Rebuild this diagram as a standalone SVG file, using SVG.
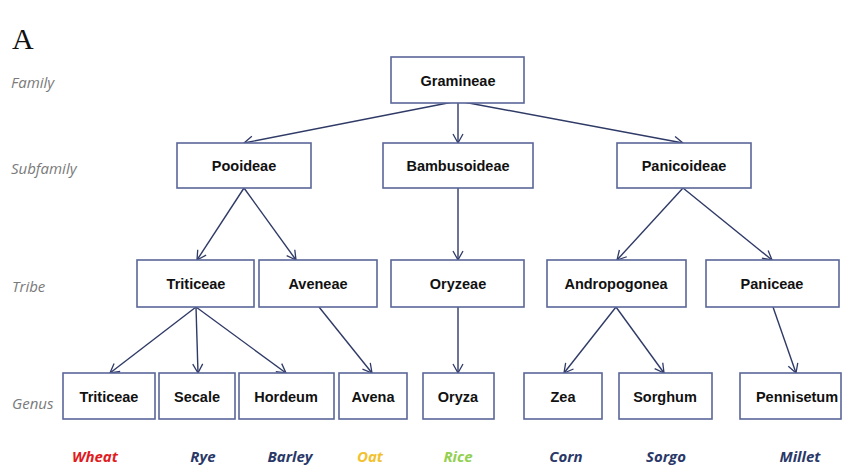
<svg xmlns="http://www.w3.org/2000/svg" width="843" height="466" viewBox="0 0 843 466">
<defs>
<marker id="ah" markerWidth="12" markerHeight="12" refX="10" refY="6" orient="auto" markerUnits="userSpaceOnUse">
<path d="M1,1 L10,6 L1,11" fill="none" stroke="#2f3a66" stroke-width="1.3"/>
</marker>
</defs>
<style>
.box{fill:#fff;stroke:#5a6699;stroke-width:1.6}
.t{font-family:"Liberation Sans",Arial,sans-serif;font-weight:bold;font-size:14.5px;fill:#111;text-anchor:middle}
.lvl{font-family:"Open Sans","Liberation Sans",sans-serif;font-style:italic;font-size:15px;fill:#7a7a7a}
.c{font-family:"Open Sans","Liberation Sans",sans-serif;font-style:italic;font-weight:bold;font-size:15px;text-anchor:middle}
.e{fill:none;stroke:#2f3a66;stroke-width:1.4;marker-end:url(#ah)}
</style>
<rect width="843" height="466" fill="#fff"/>
<text x="12" y="49" font-family="Liberation Serif,serif" font-size="30" fill="#111">A</text>
<g id="levels">
<text class="lvl" x="11" y="88">Family</text>
<text class="lvl" x="11" y="174">Subfamily</text>
<text class="lvl" x="12" y="292">Tribe</text>
<text class="lvl" x="12" y="409">Genus</text>
</g>
<g id="connectors">
<line class="e" x1="458" y1="101" x2="244" y2="143"/>
<line class="e" x1="458" y1="101" x2="458" y2="143"/>
<line class="e" x1="458" y1="101" x2="683" y2="143"/>
<line class="e" x1="244" y1="188" x2="197" y2="260"/>
<line class="e" x1="244" y1="188" x2="296" y2="260"/>
<line class="e" x1="458" y1="188" x2="458" y2="260"/>
<line class="e" x1="683" y1="188" x2="617" y2="260"/>
<line class="e" x1="683" y1="188" x2="772" y2="260"/>
<line class="e" x1="196" y1="307" x2="110" y2="373"/>
<line class="e" x1="196" y1="307" x2="198" y2="373"/>
<line class="e" x1="196" y1="307" x2="286" y2="373"/>
<line class="e" x1="319" y1="307" x2="372" y2="373"/>
<line class="e" x1="458" y1="307" x2="458" y2="373"/>
<line class="e" x1="616" y1="307" x2="564" y2="373"/>
<line class="e" x1="616" y1="307" x2="664" y2="373"/>
<line class="e" x1="773" y1="307" x2="796" y2="373"/>
</g>
<g id="n-gramineae"><rect class="box" x="391" y="57" width="133" height="46"/><text class="t" x="458" y="86">Gramineae</text></g>
<g id="n-pooideae"><rect class="box" x="177" y="143" width="134" height="45"/><text class="t" x="244" y="171">Pooideae</text></g>
<g id="n-bambusoideae"><rect class="box" x="383" y="143" width="150" height="45"/><text class="t" x="458" y="171">Bambusoideae</text></g>
<g id="n-panicoideae"><rect class="box" x="617" y="143" width="134" height="45"/><text class="t" x="684" y="171">Panicoideae</text></g>
<g id="n-triticeae-tribe"><rect class="box" x="137" y="260" width="117" height="47"/><text class="t" x="196" y="289">Triticeae</text></g>
<g id="n-aveneae"><rect class="box" x="259" y="260" width="118" height="47"/><text class="t" x="318" y="289">Aveneae</text></g>
<g id="n-oryzeae"><rect class="box" x="391" y="260" width="133" height="47"/><text class="t" x="458" y="289">Oryzeae</text></g>
<g id="n-andropogonea"><rect class="box" x="547" y="260" width="139" height="47"/><text class="t" x="616" y="289">Andropogonea</text></g>
<g id="n-paniceae"><rect class="box" x="706" y="260" width="133" height="47"/><text class="t" x="772" y="289">Paniceae</text></g>
<g id="n-triticeae-genus"><rect class="box" x="63" y="373" width="92" height="46"/><text class="t" x="109" y="402">Triticeae</text></g>
<g id="n-secale"><rect class="box" x="159" y="373" width="76" height="46"/><text class="t" x="197" y="402">Secale</text></g>
<g id="n-hordeum"><rect class="box" x="239" y="373" width="95" height="46"/><text class="t" x="286" y="402">Hordeum</text></g>
<g id="n-avena"><rect class="box" x="339" y="373" width="68" height="46"/><text class="t" x="373" y="402">Avena</text></g>
<g id="n-oryza"><rect class="box" x="423" y="373" width="71" height="46"/><text class="t" x="458" y="402">Oryza</text></g>
<g id="n-zea"><rect class="box" x="524" y="373" width="78" height="46"/><text class="t" x="563" y="402">Zea</text></g>
<g id="n-sorghum"><rect class="box" x="619" y="373" width="93" height="46"/><text class="t" x="665" y="402">Sorghum</text></g>
<g id="n-pennisetum"><rect class="box" x="740" y="373" width="101" height="46"/><text class="t" x="797" y="402">Pennisetum</text></g>
<g id="common-names">
<text class="c" x="95" y="462" fill="#e01b22">Wheat</text>
<text class="c" x="203" y="462" fill="#2a3868">Rye</text>
<text class="c" x="290" y="462" fill="#2a3868">Barley</text>
<text class="c" x="370" y="462" fill="#f2c12e">Oat</text>
<text class="c" x="458" y="462" fill="#92d050">Rice</text>
<text class="c" x="566" y="462" fill="#2a3868">Corn</text>
<text class="c" x="666" y="462" fill="#2a3868">Sorgo</text>
<text class="c" x="800" y="462" fill="#2a3868">Millet</text>
</g>
</svg>
